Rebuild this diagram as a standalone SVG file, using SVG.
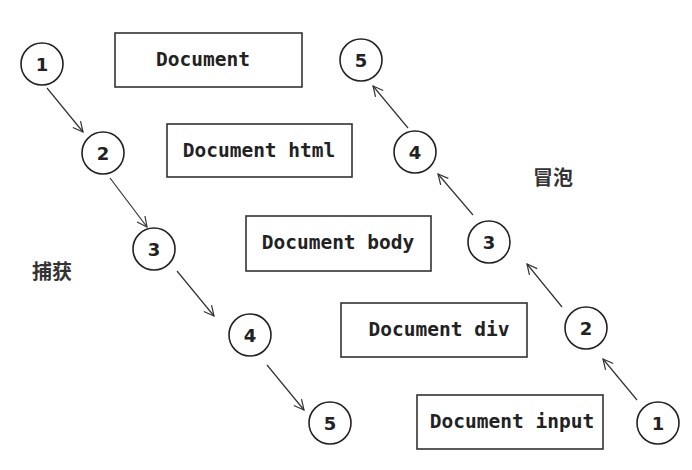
<svg xmlns="http://www.w3.org/2000/svg" width="692" height="470" viewBox="0 0 692 470">
<defs>
<marker id="arr" markerUnits="userSpaceOnUse" markerWidth="14" markerHeight="14" refX="11" refY="6" orient="auto">
<path d="M1,1 L11,6 L1,11" fill="none" stroke="#333" stroke-width="1.2"/>
</marker>
<style>
.box{fill:#fff;stroke:#333;stroke-width:1.6}
.btxt{font-family:"DejaVu Sans Mono","Liberation Mono",monospace;font-weight:bold;font-size:19.5px;fill:#222;text-anchor:middle}
.circ{fill:#fff;stroke:#222;stroke-width:1.6}
.num{font-family:"DejaVu Sans","Liberation Sans",sans-serif;font-weight:bold;font-size:18px;fill:#222;text-anchor:middle}
.lbl{font-family:"Noto Sans CJK SC","Liberation Sans",sans-serif;font-weight:bold;font-size:20px;fill:#333}
.edge{stroke:#333;stroke-width:1.2;fill:none;marker-end:url(#arr)}
</style>
</defs>
<rect width="692" height="470" fill="#fff"/>
<g id="box-document"><rect class="box" x="115" y="33" width="187" height="54"/><text class="btxt" x="203" y="66">Document</text></g>
<g id="box-html"><rect class="box" x="167" y="124" width="185" height="53"/><text class="btxt" x="259" y="157">Document html</text></g>
<g id="box-body"><rect class="box" x="246" y="216" width="185" height="55"/><text class="btxt" x="338" y="249">Document body</text></g>
<g id="box-div"><rect class="box" x="341" y="303" width="186" height="54"/><text class="btxt" x="439" y="336">Document div</text></g>
<g id="box-input"><rect class="box" x="417" y="395" width="186" height="54"/><text class="btxt" x="512" y="428">Document input</text></g>
<g id="cap1"><circle class="circ" cx="42" cy="64" r="21"/><text class="num" x="42" y="70.5">1</text></g>
<g id="cap2"><circle class="circ" cx="103" cy="153" r="21"/><text class="num" x="103" y="159.5">2</text></g>
<g id="cap3"><circle class="circ" cx="154" cy="249" r="21"/><text class="num" x="154" y="255.5">3</text></g>
<g id="cap4"><circle class="circ" cx="250" cy="335" r="21"/><text class="num" x="250" y="341.5">4</text></g>
<g id="cap5"><circle class="circ" cx="330" cy="423" r="21"/><text class="num" x="330" y="429.5">5</text></g>
<g id="bub5"><circle class="circ" cx="361" cy="60" r="21"/><text class="num" x="361" y="66.5">5</text></g>
<g id="bub4"><circle class="circ" cx="415" cy="152" r="21"/><text class="num" x="415" y="158.5">4</text></g>
<g id="bub3"><circle class="circ" cx="489" cy="242" r="21"/><text class="num" x="489" y="248.5">3</text></g>
<g id="bub2"><circle class="circ" cx="586" cy="328" r="21"/><text class="num" x="586" y="334.5">2</text></g>
<g id="bub1"><circle class="circ" cx="658" cy="423" r="21"/><text class="num" x="658" y="429.5">1</text></g>
<g id="label-capture"><text class="lbl" x="32" y="279">捕获</text></g>
<g id="label-bubble"><text class="lbl" x="533" y="185">冒泡</text></g>
<g id="connectors">
<line class="edge" x1="47" y1="88" x2="83" y2="132"/>
<line class="edge" x1="110" y1="178" x2="147" y2="227"/>
<line class="edge" x1="177" y1="271" x2="214" y2="316"/>
<line class="edge" x1="267" y1="365" x2="304" y2="410"/>
<line class="edge" x1="637" y1="400" x2="603" y2="359"/>
<line class="edge" x1="562" y1="307" x2="527" y2="264"/>
<line class="edge" x1="473" y1="215" x2="438" y2="174"/>
<line class="edge" x1="408" y1="128" x2="373" y2="86"/>
</g>
</svg>
